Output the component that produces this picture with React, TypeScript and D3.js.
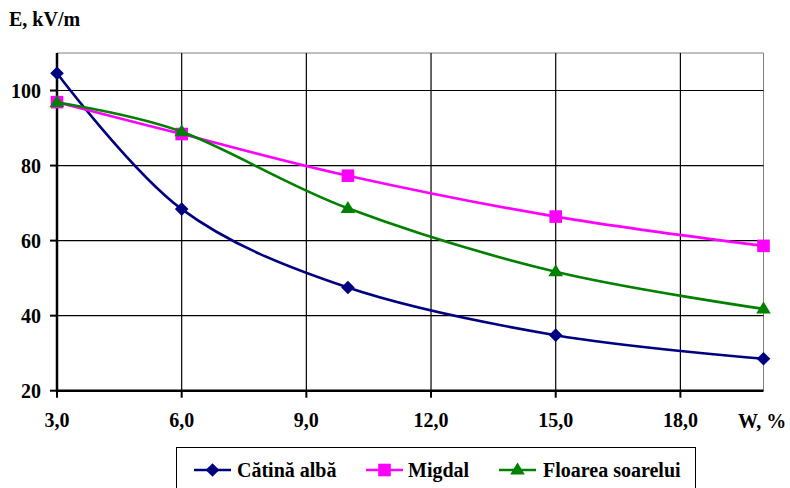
import React from "react";
import * as d3 from "d3";

const moisture = [3, 6, 10, 15, 20];
const catinaAlba = [104.6, 68.4, 47.5, 34.8, 28.5];
const migdal = [96.9, 88.4, 77.3, 66.4, 58.6];
const floareaSoarelui = [96.8, 89.0, 68.6, 51.7, 41.8];
const xTicks = [3, 6, 9, 12, 15, 18];
const yTicks = [20, 40, 60, 80, 100];
const seriesNames = ["Cătină albă", "Migdal", "Floarea soarelui"];
const seriesColors = ["#000080", "#FF00FF", "#008000"];
const seriesMarkers = ["diamond", "square", "triangle"];

const W = 790;
const H = 488;
const left = 57;
const right = 763.5;
const top = 53;
const bottom = 390.7;
const textStyle: React.CSSProperties = {
  fontFamily: "Liberation Serif, Times New Roman, DejaVu Serif, serif",
  fontWeight: 700,
  fontSize: "20px",
};

function Marker({ kind, x, y, color }: { kind: string; x: number; y: number; color: string }) {
  if (kind === "diamond") {
    const r = 6.8;
    return <path d={`M${x},${y - r}L${x + r},${y}L${x},${y + r}L${x - r},${y}Z`} fill={color} />;
  }
  if (kind === "square") {
    const s = 6.3;
    return <rect x={x - s} y={y - s} width={2 * s} height={2 * s} fill={color} />;
  }
  const h = 12;
  const w = 7.3;
  return <path d={`M${x},${y - h * 0.62}L${x + w},${y + h * 0.38}L${x - w},${y + h * 0.38}Z`} fill={color} />;
}

export default function App() {
  const x = d3.scaleLinear().domain([3, 20]).range([left, right]);
  const y = d3.scaleLinear().domain([20, 110]).range([bottom, top]);
  const data = [catinaAlba, migdal, floareaSoarelui];
  const line = d3
    .line<number>()
    .x((_, i) => x(moisture[i]))
    .y((d) => y(d))
    .curve(d3.curveCardinal.tension(0));

  const legendItems = [
    { lx: 194, tx: 237 },
    { lx: 366, tx: 408 },
    { lx: 499, tx: 543 },
  ];

  return (
    <svg
      width={W}
      height={H}
      style={{ position: "absolute", left: 0, top: 0, background: "#fff" }}
    >
      <rect x={0} y={0} width={W} height={H} fill="#fff" />
      {/* plot border top/right */}
      <line x1={left} x2={right} y1={top} y2={top} stroke="#808080" strokeWidth={1} />
      <line x1={right} x2={right} y1={top} y2={bottom} stroke="#808080" strokeWidth={1} />
      {/* grid */}
      {xTicks.slice(1).map((t) => (
        <line key={"gx" + t} x1={x(t)} x2={x(t)} y1={top} y2={bottom} stroke="#000" strokeWidth={1.2} />
      ))}
      {yTicks.slice(1).map((t) => (
        <line key={"gy" + t} x1={left} x2={right} y1={y(t)} y2={y(t)} stroke="#000" strokeWidth={1.2} />
      ))}
      {/* axes */}
      <line x1={left} x2={left} y1={top} y2={bottom + 1} stroke="#000" strokeWidth={2.5} />
      <line x1={left - 1} x2={right} y1={bottom} y2={bottom} stroke="#000" strokeWidth={2.5} />
      {yTicks.map((t) => (
        <g key={"yt" + t}>
          <line x1={left - 7} x2={left} y1={y(t)} y2={y(t)} stroke="#000" strokeWidth={2} />
          <text x={41} y={y(t) + 7} textAnchor="end" style={textStyle}>
            {t}
          </text>
        </g>
      ))}
      {xTicks.map((t) => (
        <g key={"xt" + t}>
          <line x1={x(t)} x2={x(t)} y1={bottom} y2={bottom + 7} stroke="#000" strokeWidth={2} />
          <text x={x(t)} y={427} textAnchor="middle" style={textStyle}>
            {t.toFixed(1).replace(".", ",")}
          </text>
        </g>
      ))}
      <text x={9} y={26} style={textStyle}>E, kV/m</text>
      <text x={738} y={428} style={textStyle}>W, %</text>
      {/* series */}
      {data.map((vals, si) => (
        <g key={"s" + si}>
          <path d={line(vals) || ""} fill="none" stroke={seriesColors[si]} strokeWidth={2.6} />
          {vals.map((v, i) => (
            <Marker key={i} kind={seriesMarkers[si]} x={x(moisture[i])} y={y(v)} color={seriesColors[si]} />
          ))}
        </g>
      ))}
      {/* legend */}
      <rect x={176.5} y={447.5} width={519} height={50} fill="#fff" stroke="#000" strokeWidth={1} />
      {legendItems.map((it, i) => (
        <g key={"l" + i}>
          <line x1={it.lx} x2={it.lx + 37} y1={470} y2={470} stroke={seriesColors[i]} strokeWidth={2.6} />
          <Marker kind={seriesMarkers[i]} x={it.lx + 18.5} y={470} color={seriesColors[i]} />
          <text x={it.tx} y={477} style={textStyle}>
            {seriesNames[i]}
          </text>
        </g>
      ))}
    </svg>
  );
}
